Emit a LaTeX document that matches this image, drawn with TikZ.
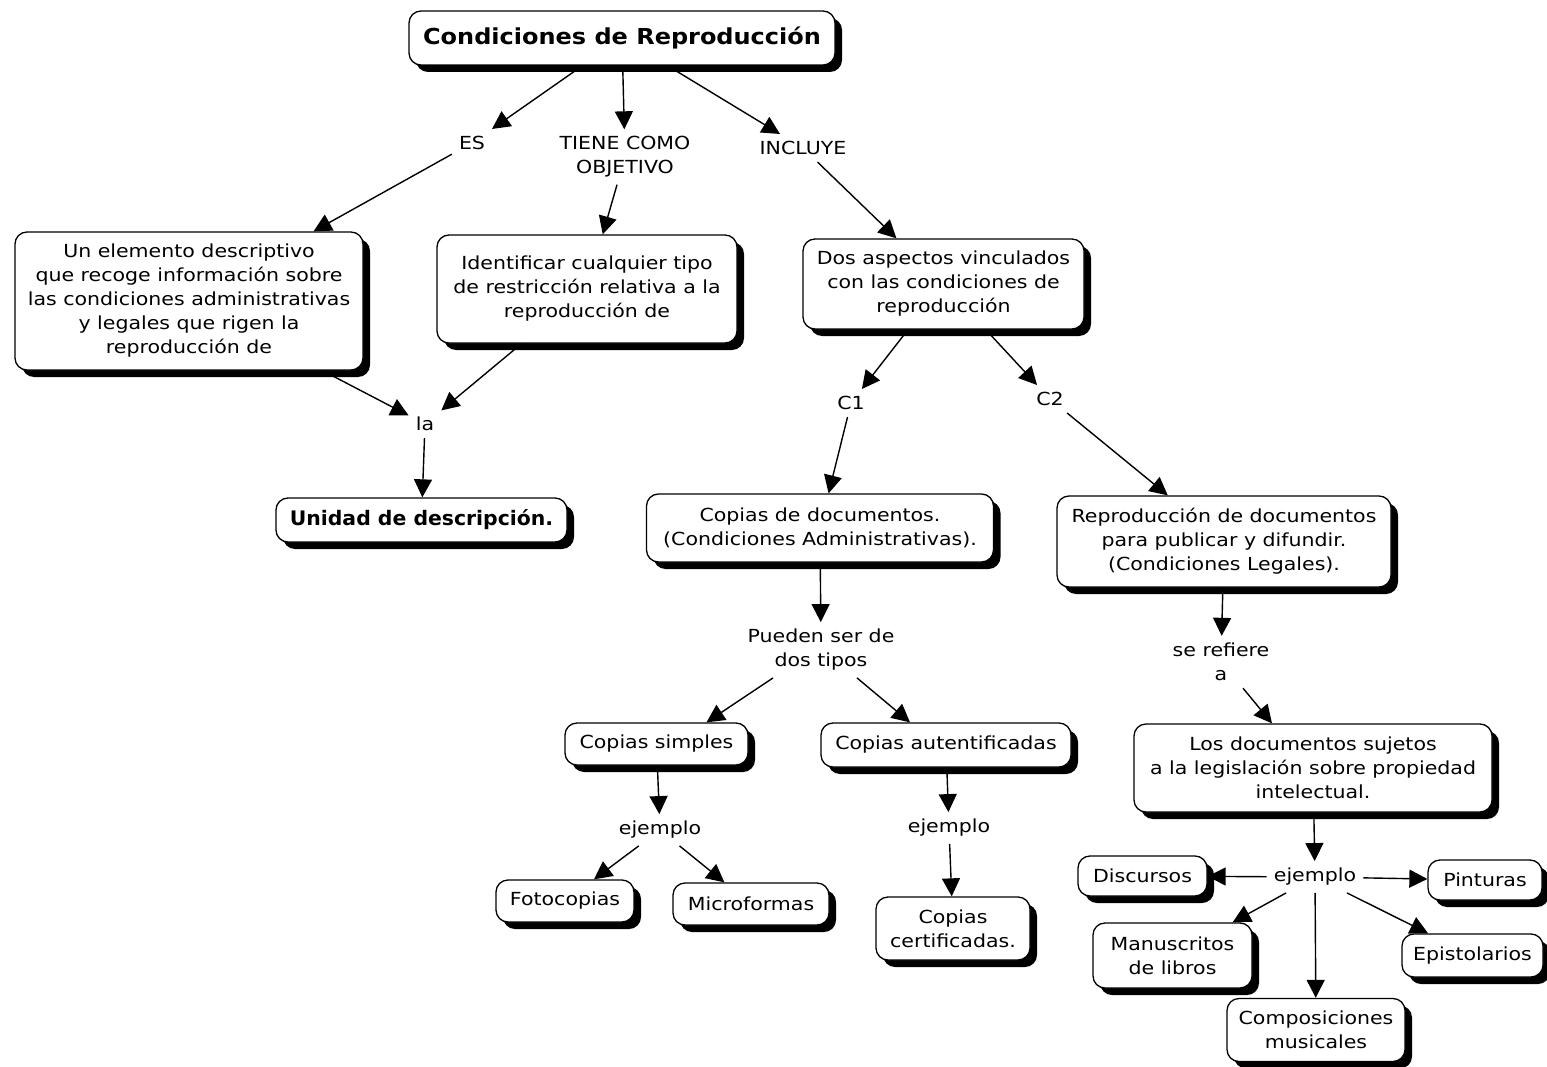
\documentclass[tikz,border=0pt]{standalone}
\usepackage{fontspec}
\setmainfont[FakeStretch=1.14]{DejaVu Sans}
\newfontfamily\titlefont[FakeStretch=1.09]{DejaVu Sans}
\newfontfamily\unitfont[FakeStretch=1.02]{DejaVu Sans}
\usetikzlibrary{arrows.meta,shadows}

\begin{document}
\begin{tikzpicture}[x=1pt,y=-1pt,
  every node/.style={font=\fontsize{18}{24}\selectfont},
  concept/.style={draw, line width=1.3pt, rounded corners=12pt, fill=white,
    inner sep=0pt, align=center,
    drop shadow={shadow xshift=7pt,shadow yshift=-7pt,fill=black,opacity=1}},
  heading/.style={concept, font=\titlefont\fontsize{22}{26}\selectfont\bfseries},
  unitstyle/.style={concept, font=\unitfont\fontsize{20}{24}\selectfont\bfseries},
  linkword/.style={inner sep=7pt, align=center},
  arr/.style={line width=1.4pt, -{Triangle[length=18pt,width=18pt]}}
]
% page area
\fill[white] (0,0) rectangle (1547,1067);
\useasboundingbox (0,0) rectangle (1547,1067);

% concepts and linking words
\node[heading, minimum width=426pt, minimum height=54pt] (title) at (622,38) {Condiciones de Reproducción};
\node[linkword] (es) at (472,143) {ES};
\node[linkword] (tiene) at (625,157) {TIENE COMO\\OBJETIVO};
\node[linkword] (incluye) at (803,148) {INCLUYE};

\node[concept, minimum width=348pt, minimum height=138pt] (elem) at (189,301)
  {Un elemento descriptivo\\que recoge información sobre\\las condiciones administrativas\\y legales que rigen la\\reproducción de};
\node[concept, minimum width=300pt, minimum height=108pt] (ident) at (587,289)
  {Identificar cualquier tipo\\de restricción relativa a la\\reproducción de};
\node[concept, minimum width=281pt, minimum height=90pt] (aspectos) at (943.5,284)
  {Dos aspectos vinculados\\con las condiciones de\\reproducción};

\node[linkword] (la) at (425,424) {la};
\node[unitstyle, minimum width=291pt, minimum height=44pt] (unidad) at (421.5,520) {Unidad de descripción.};

\node[linkword] (c1) at (851,403) {C1};
\node[linkword] (c2) at (1050,399) {C2};

\node[concept, minimum width=347pt, minimum height=68pt] (copdoc) at (820,528)
  {Copias de documentos.\\(Condiciones Administrativas).};
\node[concept, minimum width=334pt, minimum height=91pt] (repro) at (1224,541.5)
  {Reproducción de documentos\\para publicar y difundir.\\(Condiciones Legales).};

\node[linkword] (pueden) at (821,650) {Pueden ser de\\dos tipos};
\node[linkword] (refiere) at (1221,662) {se refiere\\a};

\node[concept, minimum width=183pt, minimum height=42pt] (simples) at (656.5,744) {Copias simples};
\node[concept, minimum width=250pt, minimum height=44pt] (autent) at (946,745) {Copias autentificadas};
\node[concept, minimum width=358pt, minimum height=88pt] (sujetos) at (1313,768)
  {Los documentos sujetos\\a la legislación sobre propiedad\\intelectual.};

\node[linkword] (ejA) at (660,830) {ejemplo};
\node[linkword] (ejB) at (949,828) {ejemplo};
\node[linkword] (ejC) at (1315,877) {ejemplo};

\node[concept, minimum width=138pt, minimum height=42pt] (foto) at (565,901) {Fotocopias};
\node[concept, minimum width=156pt, minimum height=42pt] (micro) at (751,904) {Microformas};
\node[concept, minimum width=154pt, minimum height=63pt] (certif) at (953,928.5) {Copias\\certificadas.};

\node[concept, minimum width=129pt, minimum height=40pt] (discursos) at (1142.5,876) {Discursos};
\node[concept, minimum width=114pt, minimum height=40pt] (pinturas) at (1485,880) {Pinturas};
\node[concept, minimum width=159pt, minimum height=65pt] (manus) at (1172.5,955.5) {Manuscritos\\de libros};
\node[concept, minimum width=141pt, minimum height=43pt] (epist) at (1472.5,955.5) {Epistolarios};
\node[concept, minimum width=178pt, minimum height=63pt] (compos) at (1316,1030) {Composiciones\\musicales};

% connectors
\draw[arr] (title) -- (es);
\draw[arr] (title) -- (tiene);
\draw[arr] (title) -- (incluye);
\draw[arr] (es) -- (elem);
\draw[arr] (tiene) -- (ident);
\draw[arr] (incluye) -- (aspectos);
\draw[arr] (elem) -- (la);
\draw[arr] (ident) -- (la);
\draw[arr] (la) -- (unidad);
\draw[arr] (aspectos) -- (c1);
\draw[arr] (aspectos) -- (c2);
\draw[arr] (c1) -- (copdoc);
\draw[arr] (c2) -- (repro);
\draw[arr] (copdoc) -- (pueden);
\draw[arr] (repro) -- (refiere);
\draw[arr] ([xshift=-48pt]pueden.south) -- ([xshift=50pt]simples.north);
\draw[arr] ([xshift=36pt]pueden.south) -- ([xshift=-36pt]autent.north);
\draw[arr] ([xshift=22pt]refiere.south) -- ([xshift=-41pt]sujetos.north);
\draw[arr] (simples) -- (ejA);
\draw[arr] (ejA) -- (foto);
\draw[arr] (ejA) -- (micro);
\draw[arr] (autent) -- (ejB);
\draw[arr] (ejB) -- (certif);
\draw[arr] (sujetos) -- (ejC);
\draw[arr] (ejC) -- (discursos);
\draw[arr] (ejC) -- (pinturas);
\draw[arr] (ejC) -- (manus);
\draw[arr] (ejC) -- (compos);
\draw[arr] (ejC) -- (epist);
\end{tikzpicture}
\end{document}
